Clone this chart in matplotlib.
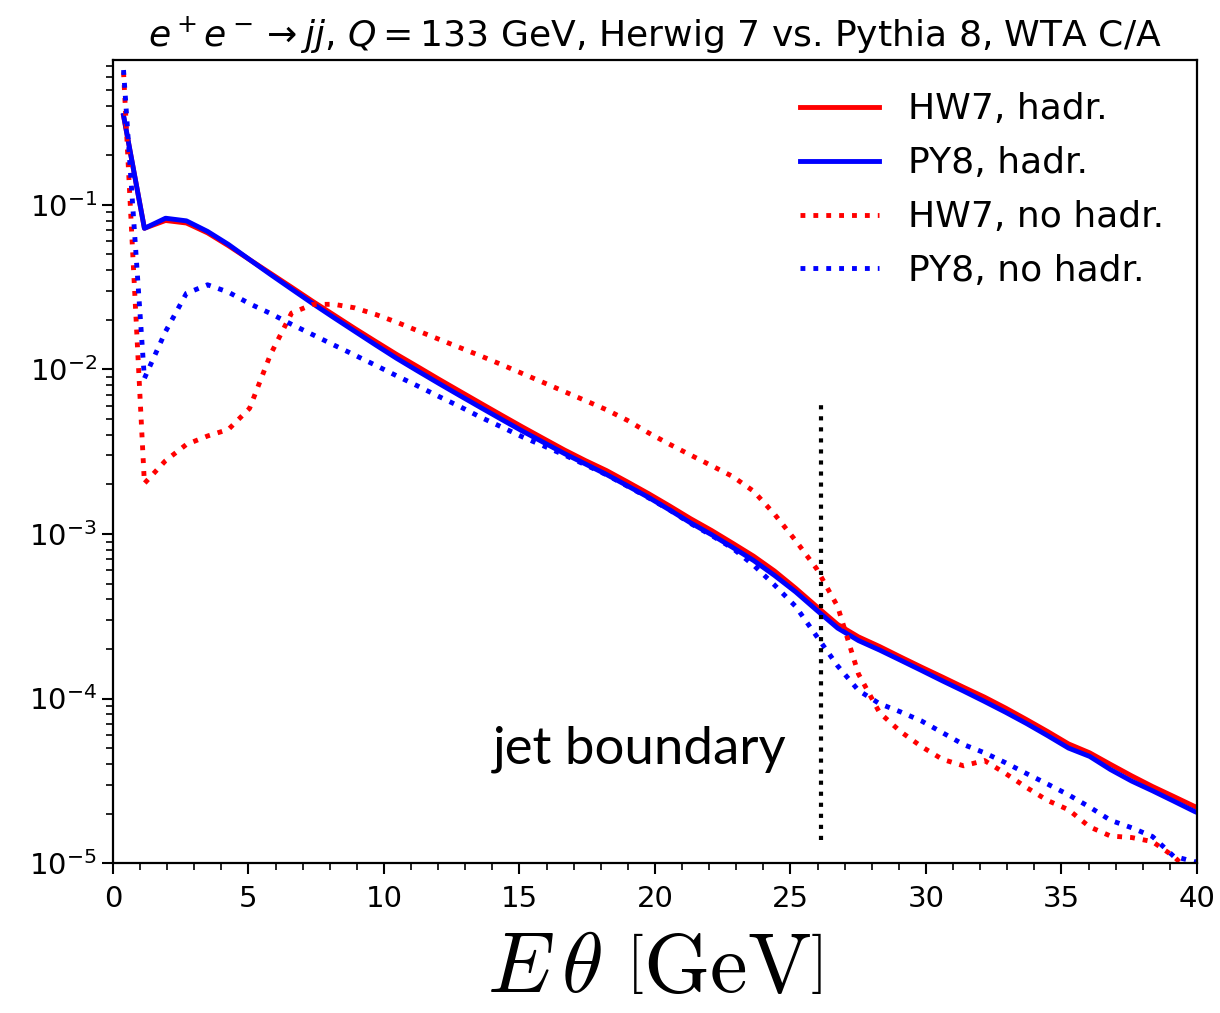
import numpy as np
import matplotlib
matplotlib.use("Agg")
import matplotlib.pyplot as plt

# bin centres in E*theta [GeV]
e_theta = [0.39, 1.16, 1.94, 2.71, 3.49, 4.26, 5.04, 5.81, 6.59, 7.36,
           8.14, 8.91, 9.69, 10.46, 11.24, 12.01, 12.79, 13.56, 14.34, 15.11,
           15.89, 16.66, 17.44, 18.21, 18.99, 19.76, 20.54, 21.31, 22.09, 22.86,
           23.64, 24.41, 25.19, 25.96, 26.74, 27.51, 28.29, 29.06, 29.84, 30.61,
           31.39, 32.16, 32.94, 33.71, 34.49, 35.26, 36.04, 36.81, 37.59, 38.36,
           39.14, 39.91, 40.69]

hw7_hadr = [0.347, 0.0721, 0.0804, 0.0776, 0.0676, 0.0565, 0.0465, 0.0384, 0.0316, 0.026,
            0.0215, 0.0178, 0.0148, 0.01236, 0.0104, 0.00875, 0.00738, 0.00624, 0.00527, 0.00447,
            0.0038, 0.00324, 0.00279, 0.00243, 0.00207, 0.00176, 0.00148, 0.00124, 0.00105, 0.00088,
            0.000733, 0.000596, 0.000468, 0.000363, 0.000282, 0.000237, 0.000207, 0.000179, 0.000155, 0.000135,
            0.000117, 0.000102, 8.75e-5, 7.45e-5, 6.3e-5, 5.3e-5, 4.68e-5, 3.98e-5, 3.39e-5, 2.92e-5,
            2.54e-5, 2.21e-5, 1.95e-5]

py8_hadr = [0.35, 0.072, 0.083, 0.080, 0.069, 0.0575, 0.0465, 0.0378, 0.0308, 0.0252,
            0.0207, 0.0171, 0.0141, 0.0117, 0.0098, 0.00825, 0.00695, 0.00588, 0.00497, 0.00422,
            0.0036, 0.00308, 0.00266, 0.0023, 0.00196, 0.00167, 0.0014, 0.00117, 0.00099, 0.00083,
            0.00069, 0.00056, 0.000445, 0.000345, 0.000268, 0.000225, 0.000197, 0.000171, 0.000148, 0.000128,
            0.000111, 9.6e-5, 8.25e-5, 7.05e-5, 5.95e-5, 5.0e-5, 4.45e-5, 3.7e-5, 3.15e-5, 2.75e-5,
            2.38e-5, 2.06e-5, 1.82e-5]

hw7_nohadr = [0.64, 0.00203, 0.00279, 0.0035, 0.00394, 0.00432, 0.0058, 0.0123, 0.022, 0.0248,
              0.0249, 0.0237, 0.0216, 0.0194, 0.0172, 0.0153, 0.0136, 0.0121, 0.0107, 0.00944,
              0.00832, 0.00733, 0.00646, 0.00569, 0.0049, 0.00412, 0.00351, 0.00302, 0.0026, 0.00224,
              0.00182, 0.00132, 0.000912, 0.000617, 0.000363, 0.000141, 8.2e-5, 6.3e-5, 5.1e-5, 4.27e-5,
              3.9e-5, 4.2e-5, 3.5e-5, 2.88e-5, 2.4e-5, 2.11e-5, 1.66e-5, 1.46e-5, 1.43e-5, 1.35e-5,
              1.1e-5, 8.3e-6, 7e-6]

py8_nohadr = [0.66, 0.00883, 0.017, 0.029, 0.0327, 0.0295, 0.0251, 0.0219, 0.0188, 0.0163,
              0.0141, 0.01225, 0.0106, 0.00916, 0.00794, 0.00687, 0.00596, 0.00513, 0.00447, 0.00389,
              0.00343, 0.00302, 0.00263, 0.00229, 0.00195, 0.00166, 0.0014, 0.00116, 0.00098, 0.00082,
              0.000646, 0.00049, 0.000363, 0.00024, 0.000158, 0.000112, 9.3e-5, 8.3e-5, 7.3e-5, 6.2e-5,
              5.25e-5, 4.68e-5, 4.07e-5, 3.5e-5, 3.02e-5, 2.6e-5, 2.19e-5, 1.82e-5, 1.64e-5, 1.45e-5,
              1.1e-5, 1.02e-5, 1.02e-5]

# jet boundary: theta = pi/8 at E = Q/2
Q = 133.0
boundary = Q / 2 * np.pi / 8

fig = plt.figure(figsize=(12.2, 10.13), dpi=100)
ax = fig.add_axes([0.0926, 0.148, 0.8885, 0.7928])

ax.plot(e_theta, hw7_hadr, color='red', lw=3.5, label='HW7, hadr.')
ax.plot(e_theta, py8_hadr, color='blue', lw=3.5, label='PY8, hadr.')
ax.plot(e_theta, hw7_nohadr, color='red', lw=3.5, ls=':', label='HW7, no hadr.')
ax.plot(e_theta, py8_nohadr, color='blue', lw=3.5, ls=':', label='PY8, no hadr.')

ax.vlines(boundary, 1.38e-5, 6.1e-3, color='black', lw=3, linestyles=':')
ax.text(14.0, 4.9e-5, 'jet boundary', fontsize=38, family='Lato',
        va='center', ha='left')

ax.set_yscale('log')
ax.set_xlim(0, 40)
ax.set_ylim(1e-5, 0.76)
ax.set_xticks([0, 5, 10, 15, 20, 25, 30, 35, 40])
ax.set_xticks(np.arange(0, 41, 1), minor=True)
ax.tick_params(which='major', labelsize=21, length=8, width=1.5)
ax.tick_params(axis='x', which='major', pad=8)
ax.tick_params(which='minor', length=5, width=1.2)
for s in ax.spines.values():
    s.set_linewidth(1.6)

ax.set_xlabel(r'$E\,\theta\ \left[\mathrm{GeV}\right]$', fontsize=61,
              math_fontfamily='cm', labelpad=10)
ax.set_title(r'$e^+e^-\to jj$, $Q = 133$ GeV, Herwig 7 vs. Pythia 8, WTA C/A',
             fontsize=26, pad=10)

ax.legend(loc='upper right', fontsize=26, frameon=False, handlelength=2.2,
          borderaxespad=0.5, labelspacing=0.55)

fig.savefig('out.png', dpi=100)
